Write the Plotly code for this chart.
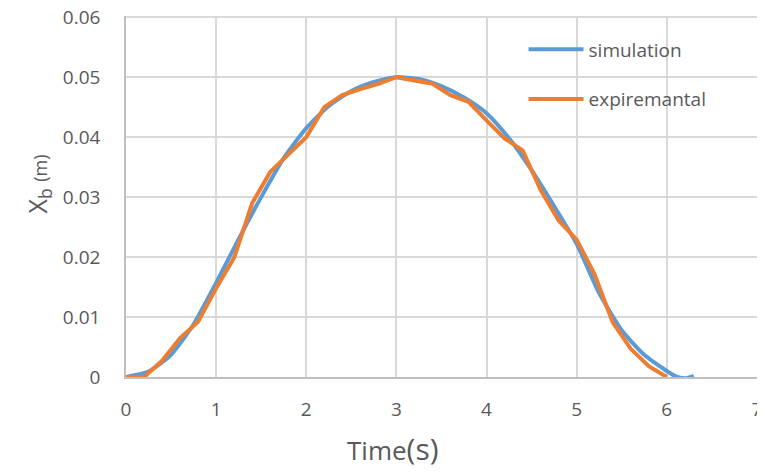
import plotly.graph_objects as go

# Simulation curve
sim_t = [0, 0.25, 0.5, 0.75, 1.0, 1.25, 1.5, 1.75, 2.0, 2.25, 2.5, 2.75, 3.0,
         3.25, 3.5, 3.75, 4.0, 4.25, 4.5, 4.75, 5.0, 5.25, 5.5, 5.75, 6.0,
         6.1, 6.2, 6.3]
sim_x = [0, 0.0009, 0.0037, 0.0088, 0.0157, 0.0230, 0.0300, 0.0365, 0.0415,
         0.0452, 0.0477, 0.0492, 0.0500, 0.0497, 0.0485, 0.0466, 0.0440,
         0.0398, 0.0345, 0.0285, 0.0222, 0.0140, 0.0078, 0.0037, 0.0010,
         0.0001, -0.0002, 0.0002]

# Experimental curve
exp_t = [0, 0.2, 0.4, 0.6, 0.8, 1.0, 1.2, 1.4, 1.6, 1.8, 2.0, 2.2, 2.4, 2.6,
         2.8, 3.0, 3.2, 3.4, 3.6, 3.8, 4.0, 4.2, 4.4, 4.6, 4.8, 5.0, 5.2,
         5.4, 5.6, 5.8, 6.0]
exp_x = [0, 0, 0.0027, 0.0065, 0.0092, 0.0148, 0.0199, 0.0290, 0.0342, 0.0370,
         0.0400, 0.0450, 0.0470, 0.0480, 0.0489, 0.0500, 0.0494, 0.0489,
         0.0470, 0.0459, 0.0428, 0.0398, 0.0378, 0.0312, 0.0261, 0.0229,
         0.0171, 0.0091, 0.0047, 0.0018, 0]

x_ticks = [0, 1, 2, 3, 4, 5, 6, 7]
y_ticks = [0, 0.01, 0.02, 0.03, 0.04, 0.05, 0.06]
y_labels = ["0", "0.01", "0.02", "0.03", "0.04", "0.05", "0.06"]

FONT = "Open Sans"
TXT = "#595959"
GRID = "#D9D9D9"

fig = go.Figure()
fig.add_trace(go.Scatter(x=sim_t, y=sim_x, mode="lines", name="simulation",
                         legendgroup="a",
                         line=dict(color="#5B9BD5", width=4, shape="spline", smoothing=0.6)))
fig.add_trace(go.Scatter(x=exp_t, y=exp_x, mode="lines", name="expiremantal",
                         legendgroup="b",
                         line=dict(color="#ED7D31", width=4)))

# The page body has an 8px margin; margins compensate for that offset
fig.update_layout(
    width=765, height=473,
    margin=dict(l=118, r=16, t=8, b=103.5),
    paper_bgcolor="white", plot_bgcolor="white",
    font=dict(family=FONT, color=TXT, size=19),
    legend=dict(x=0.630, y=0.96, xanchor="left", yanchor="top",
                bgcolor="rgba(0,0,0,0)", tracegroupgap=22, itemwidth=55,
                font=dict(family=FONT, size=19, color=TXT)),
    xaxis=dict(range=[0, 7.001], tickvals=x_ticks, showgrid=True, gridcolor=GRID,
               gridwidth=1.5, zeroline=False, showline=True, linecolor="#BFBFBF",
               linewidth=1.5, ticks="outside", ticklen=14, automargin=False,
               ticklabeloverflow="allow",
               tickcolor="rgba(0,0,0,0)", tickfont=dict(size=19, color=TXT)),
    yaxis=dict(range=[0, 0.0602], tickvals=y_ticks, ticktext=y_labels,
               showgrid=True, gridcolor=GRID, gridwidth=1.5, zeroline=False,
               showline=True, linecolor="#BFBFBF", linewidth=1.5, automargin=False,
               ticklabeloverflow="allow",
               ticks="outside", ticklen=20, tickcolor="rgba(0,0,0,0)",
               tickfont=dict(size=19, color=TXT)),
    annotations=[
        dict(text="Time<span style='font-size:30px'>(s)</span>", xref="paper",
             yref="paper", x=0.423, y=0, yshift=-71, xanchor="center",
             yanchor="middle", showarrow=False,
             font=dict(family=FONT, size=26, color=TXT)),
        dict(text="X<sub>b</sub> <span style='font-size:18px'>(m)</span>",
             xref="paper", yref="paper", x=0, xshift=-88, y=0.5, yshift=12,
             xanchor="center", yanchor="middle", textangle=-90,
             showarrow=False, font=dict(family=FONT, size=25, color=TXT)),
    ],
)

fig.write_html("out.html")
